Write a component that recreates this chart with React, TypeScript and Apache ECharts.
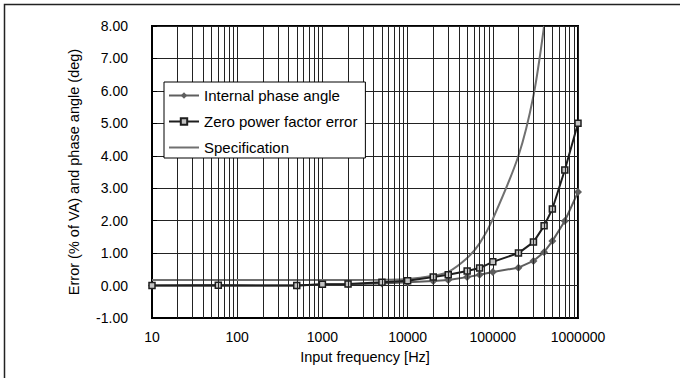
import React, { useEffect, useRef } from "react";
import * as echarts from "echarts";

const frequencies = [10, 60, 500, 1000, 2000, 5000, 10000, 20000, 30000, 50000, 70000, 100000, 200000, 300000, 400000, 500000, 700000, 1000000];
const internalPhaseAngle = [0, 0.01, 0, 0.03, 0.04, 0.06, 0.1, 0.14, 0.17, 0.26, 0.33, 0.42, 0.55, 0.76, 1.03, 1.37, 1.99, 2.88];
const zeroPfError = [0, 0.01, 0, 0.04, 0.05, 0.1, 0.15, 0.26, 0.33, 0.45, 0.54, 0.73, 1.0, 1.34, 1.84, 2.36, 3.56, 5.0];
const specFrequencies = [10, 1000, 5000, 10000, 20000, 30000, 50000, 70000, 100000, 200000, 300000, 400000];
const specification = [0.17, 0.17, 0.18, 0.2, 0.3, 0.42, 0.85, 1.3, 2.05, 4.0, 5.85, 8.0];
const seriesNames = ["Internal phase angle", "Zero power factor error", "Specification"];
const decades = [10, 100, 1000, 10000, 100000];
const minorMultipliers = [2, 3, 4, 5, 6, 7, 8, 9];

const FONT = "'Liberation Sans', Arial, sans-serif";

export default function App() {
  const ref = useRef<HTMLDivElement>(null);
  useEffect(() => {
    if (!ref.current) return;
    const chart = echarts.init(ref.current, null, { renderer: "svg" });
    const minorLines: any[] = [];
    decades.forEach((d) => minorMultipliers.forEach((m) => minorLines.push({ xAxis: d * m })));
    chart.setOption({
      animation: false,
      backgroundColor: "#fff",
      textStyle: { fontFamily: FONT },
      graphic: [
        {
          type: "rect",
          shape: { x: 4.5, y: 4.5, width: 720, height: 420 },
          style: { fill: "none", stroke: "#222", lineWidth: 1.5 },
          silent: true,
        },
      ],
      grid: {
        left: 152,
        top: 26,
        right: 102,
        bottom: 60,
        show: true,
        borderColor: "#000",
        borderWidth: 2,
        backgroundColor: "transparent",
      },
      legend: {
        data: [
          { name: seriesNames[0] },
          { name: seriesNames[1] },
          { name: seriesNames[2], itemStyle: { opacity: 0 } },
        ],
        orient: "vertical",
        left: 164,
        top: 82,
        z: 20,
        itemWidth: 30,
        itemHeight: 8,
        itemGap: 11,
        padding: [6, 8, 3, 4],
        backgroundColor: "#fff",
        borderColor: "#000",
        borderWidth: 1,
        borderRadius: 0,
        textStyle: { fontSize: 15, color: "#000", fontFamily: FONT },
      },
      xAxis: {
        type: "log",
        logBase: 10,
        min: 10,
        max: 1000000,
        name: "Input frequency [Hz]",
        nameLocation: "middle",
        nameGap: 31,
        nameTextStyle: { fontSize: 14.5, color: "#000", fontFamily: FONT },
        axisLine: { show: true, onZero: false, lineStyle: { color: "#000", width: 2 } },
        axisTick: { show: false },
        axisLabel: {
          fontSize: 14,
          color: "#000",
          fontFamily: FONT,
          margin: 12,
          formatter: (v: number) => String(Math.round(v)),
        },
        splitLine: { show: true, lineStyle: { color: "#222", width: 1 } },
      },
      yAxis: {
        type: "value",
        min: -1,
        max: 8,
        interval: 1,
        name: "Error (% of VA) and phase angle (deg)",
        nameLocation: "middle",
        nameGap: 71,
        nameTextStyle: { fontSize: 14.5, color: "#000", fontFamily: FONT },
        axisLine: { show: true, lineStyle: { color: "#000", width: 2 } },
        axisTick: { show: true, inside: true, length: 5, lineStyle: { color: "#000" } },
        axisLabel: {
          fontSize: 14,
          color: "#000",
          fontFamily: FONT,
          margin: 24,
          formatter: (v: number) => v.toFixed(2),
        },
        splitLine: { show: true, lineStyle: { color: "#222", width: 1 } },
      },
      series: [
        {
          name: "gridMinor",
          type: "line",
          data: [],
          silent: true,
          z: 1,
          markLine: {
            silent: true,
            symbol: ["none", "none"],
            label: { show: false },
            lineStyle: { color: "#222", width: 1, type: "solid" },
            emphasis: { disabled: true },
            data: minorLines,
          },
        },
        {
          name: seriesNames[0],
          type: "line",
          data: frequencies.map((f, i) => [f, internalPhaseAngle[i]]),
          symbol: "diamond",
          symbolSize: 8,
          lineStyle: { color: "#5e5e5e", width: 2 },
          itemStyle: { color: "#5e5e5e" },
          z: 3,
        },
        {
          name: seriesNames[1],
          type: "line",
          data: frequencies.map((f, i) => [f, zeroPfError[i]]),
          symbol: "rect",
          symbolSize: 6,
          lineStyle: { color: "#1e1e1e", width: 2 },
          itemStyle: { color: "#c4c4c4", borderColor: "#1e1e1e", borderWidth: 1.5 },
          z: 4,
        },
        {
          name: seriesNames[2],
          type: "line",
          data: specFrequencies.map((f, i) => [f, specification[i]]),
          symbol: "none",
          smooth: 0.3,
          lineStyle: { color: "#707070", width: 2 },
          itemStyle: { color: "#707070" },
          z: 2,
        },
      ],
    });
    return () => chart.dispose();
  }, []);
  return (
    <div
      ref={ref}
      style={{ position: "absolute", left: 0, top: 0, width: 680, height: 378, background: "#fff" }}
    />
  );
}
